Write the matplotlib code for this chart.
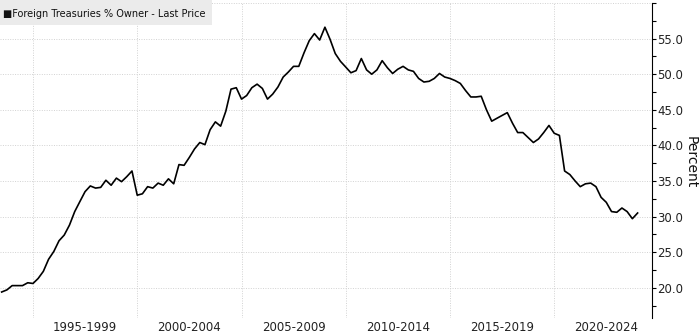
import numpy as np
import pandas as pd
import matplotlib
matplotlib.use("Agg")
import matplotlib.pyplot as plt
from matplotlib.patches import Rectangle
from matplotlib.ticker import MultipleLocator, FuncFormatter
from datetime import datetime

# ===============================
# DATA (quarterly)
# ===============================
START_QUARTER = "1993-07-01"
share_pct = [
    19.4, 19.7,
    20.3, 20.3, 20.3, 20.7,   # 1994
    20.6, 21.3, 22.3, 24.0,   # 1995
    25.1, 26.6, 27.4, 28.8,   # 1996
    30.7, 32.1, 33.5, 34.3,   # 1997
    34.0, 34.1, 35.1, 34.4,   # 1998
    35.4, 34.9, 35.6, 36.4,   # 1999
    33.0, 33.2, 34.2, 34.0,   # 2000
    34.7, 34.4, 35.3, 34.6,   # 2001
    37.3, 37.2, 38.3, 39.5,   # 2002
    40.4, 40.1, 42.2, 43.3,   # 2003
    42.7, 44.8, 47.9, 48.1,   # 2004
    46.5, 47.0, 48.1, 48.6,   # 2005
    48.0, 46.5, 47.2, 48.2,   # 2006
    49.6, 50.3, 51.1, 51.1,   # 2007
    53.0, 54.7, 55.7, 54.8,   # 2008
    56.6, 54.9, 52.9, 51.8,   # 2009
    51.0, 50.2, 50.5, 52.2,   # 2010
    50.6, 50.0, 50.6, 51.9,   # 2011
    50.9, 50.1, 50.7, 51.1,   # 2012
    50.6, 50.4, 49.4, 48.9,   # 2013
    49.0, 49.4, 50.1, 49.6,   # 2014
    49.4, 49.1, 48.7, 47.7,   # 2015
    46.8, 46.8, 46.9, 45.0,   # 2016
    43.4, 43.8, 44.2, 44.6,   # 2017
    43.1, 41.8, 41.8, 41.1,   # 2018
    40.4, 40.9, 41.8, 42.8,   # 2019
    41.7, 41.4, 36.4, 35.9,   # 2020
    35.0, 34.2, 34.6, 34.7,   # 2021
    34.2, 32.7, 32.0, 30.7,   # 2022
    30.6, 31.2, 30.7, 29.7,   # 2023
    30.5,                     # 2024
]
period_starts = [1995, 2000, 2005, 2010, 2015, 2020]
period_labels = ["1995-1999", "2000-2004", "2005-2009",
                 "2010-2014", "2015-2019", "2020-2024"]
series_name = "Foreign Treasuries % Owner - Last Price"

dates = pd.date_range(START_QUARTER, periods=len(share_pct), freq="QS")

# ===============================
# PLOT
# ===============================
fig = plt.figure(figsize=(7, 3.35), dpi=100)
ax = fig.add_axes([0.0, 1 - 318 / 335, 652 / 700, 315 / 335])

ax.plot(dates, share_pct, color="black", lw=1.2, zorder=3)

ax.set_xlim(datetime(1993, 6, 2), datetime(2024, 9, 9))
ax.set_ylim(15.75, 60)

# x axis: gridlines at period starts, labels centred in each period
ax.set_xticks([datetime(y, 1, 1) for y in period_starts])
ax.set_xticklabels([])
ax.set_xticks([datetime(y + 2, 7, 2) for y in period_starts], minor=True)
ax.set_xticklabels(period_labels, minor=True)
ax.tick_params(axis="x", which="both", length=0)
ax.tick_params(axis="x", which="minor", pad=2, labelsize=8.5, labelcolor="#222222")

# y axis on the right
ax.yaxis.tick_right()
ax.yaxis.set_major_locator(MultipleLocator(5))
ax.yaxis.set_minor_locator(MultipleLocator(2.5))
ax.yaxis.set_major_formatter(FuncFormatter(lambda v, p: "" if v >= 59.9 else f"{v:.1f}"))
ax.tick_params(axis="y", which="both", direction="out", length=3, width=0.8,
               pad=1, labelsize=8.5, labelcolor="#222222")
fig.text(691 / 700, 1 - 162 / 335, "Percent", rotation=270, fontsize=10,
         ha="center", va="center", color="#111111")

for side in ["top", "left", "bottom"]:
    ax.spines[side].set_visible(False)
ax.spines["right"].set_linewidth(0.8)

ax.grid(True, which="major", linestyle=(0, (1, 1.5)), color="#d2d2d2", lw=0.7)

# legend box top-left
fig.patches.append(Rectangle((0, 1 - 25 / 335), 212 / 700, 25 / 335,
                             transform=fig.transFigure, facecolor="#ebebeb",
                             edgecolor="none", zorder=5))
fig.text(3 / 700, 1 - 14 / 335, "\u25a0" + series_name, fontsize=7,
         va="center", ha="left", color="#111111", zorder=6)

plt.savefig("out.png", dpi=100)
